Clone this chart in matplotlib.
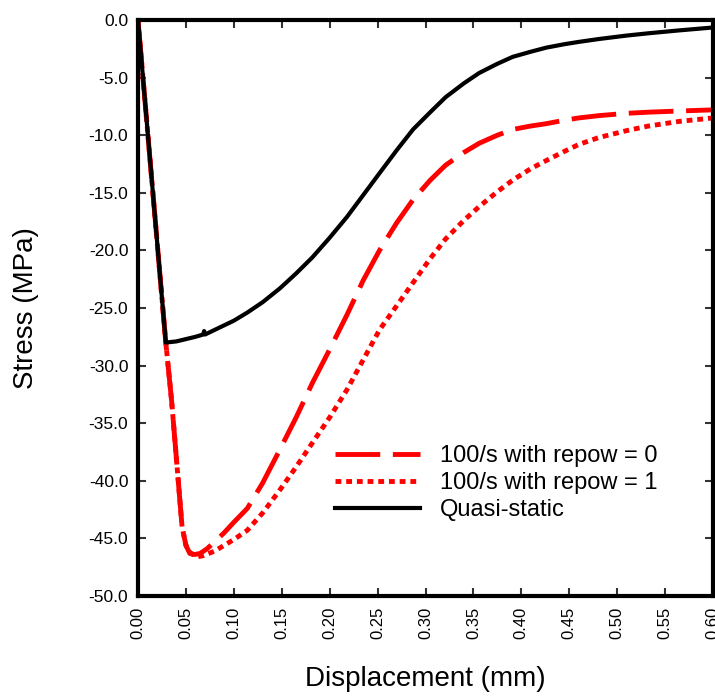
import matplotlib
matplotlib.use("Agg")
import matplotlib.pyplot as plt

plt.rcParams['font.family'] = ['Liberation Sans', 'DejaVu Sans']

# Quasi-static (black)
qs_x = [0.0, 0.029, 0.04, 0.05, 0.06, 0.068, 0.069, 0.070, 0.08, 0.09, 0.10, 0.114, 0.13,
        0.148, 0.165, 0.182, 0.20, 0.218, 0.235, 0.252, 0.27, 0.287, 0.305, 0.321, 0.34,
        0.356, 0.375, 0.391, 0.41, 0.426, 0.445, 0.46, 0.481, 0.51, 0.533, 0.565, 0.60]
qs_y = [0.0, -28.0, -27.9, -27.7, -27.5, -27.3, -27.0, -27.3, -26.9, -26.5, -26.1, -25.4, -24.5,
        -23.3, -22.0, -20.6, -18.9, -17.1, -15.2, -13.3, -11.3, -9.5, -8.0, -6.7, -5.5,
        -4.6, -3.8, -3.2, -2.75, -2.4, -2.1, -1.9, -1.65, -1.35, -1.15, -0.9, -0.65]

# 100/s with repow = 0 (red dashed)
r0_x = [0.0, 0.029, 0.035, 0.040, 0.046, 0.050, 0.054, 0.059, 0.065, 0.072, 0.08, 0.09, 0.10,
        0.114, 0.13, 0.148, 0.165, 0.182, 0.20, 0.218, 0.235, 0.252, 0.27, 0.287, 0.305,
        0.321, 0.34, 0.356, 0.375, 0.391, 0.41, 0.426, 0.445, 0.46, 0.481, 0.51, 0.533, 0.565, 0.60]
r0_y = [0.0, -28.0, -33.0, -38.0, -44.0, -45.6, -46.3, -46.4, -46.3, -45.9, -45.3, -44.5, -43.6,
        -42.4, -40.2, -37.3, -34.5, -31.5, -28.6, -25.6, -22.6, -20.0, -17.6, -15.6, -13.9,
        -12.6, -11.5, -10.7, -10.0, -9.5, -9.2, -9.0, -8.7, -8.5, -8.3, -8.1, -8.0, -7.9, -7.8]

# 100/s with repow = 1 (red dotted)
r1_x = [0.0, 0.029, 0.035, 0.040, 0.046, 0.050, 0.055, 0.062, 0.068, 0.08, 0.09, 0.10, 0.114,
        0.13, 0.148, 0.165, 0.182, 0.20, 0.218, 0.235, 0.252, 0.27, 0.287, 0.305, 0.321,
        0.34, 0.356, 0.375, 0.391, 0.41, 0.426, 0.445, 0.46, 0.481, 0.51, 0.533, 0.565, 0.60]
r1_y = [0.0, -28.0, -33.0, -38.0, -44.0, -45.6, -46.3, -46.6, -46.5, -46.1, -45.6, -45.1, -44.3,
        -42.8, -40.8, -38.8, -36.7, -34.5, -32.1, -29.5, -26.9, -24.8, -22.8, -20.7, -19.0,
        -17.4, -16.2, -14.9, -13.9, -12.9, -12.2, -11.4, -10.8, -10.2, -9.6, -9.2, -8.8, -8.5]

x_ticks = [0.00, 0.05, 0.10, 0.15, 0.20, 0.25, 0.30, 0.35, 0.40, 0.45, 0.50, 0.55, 0.60]
y_ticks = [0.0, -5.0, -10.0, -15.0, -20.0, -25.0, -30.0, -35.0, -40.0, -45.0, -50.0]

fig = plt.figure(figsize=(7.15, 6.96), dpi=100)
ax = fig.add_axes([138/715, 100/696, 575/715, 576/696])

ax.plot(r0_x, r0_y, color='#ff0000', lw=3.5, dashes=(9.2, 2.6), dash_capstyle='butt',
        label='100/s with repow = 0')
ax.plot(r1_x, r1_y, color='#ff0000', lw=3.5, dashes=(1.2, 1.0), dash_capstyle='butt',
        label='100/s with repow = 1')
ax.plot(qs_x, qs_y, color='black', lw=3.0, label='Quasi-static')

ax.set_xlim(0, 0.6)
ax.set_ylim(-50, 0)
ax.set_xticks(x_ticks)
ax.set_xticklabels([f"{v:.2f}" for v in x_ticks], rotation=90, fontsize=12)
ax.set_yticks(y_ticks)
ax.set_yticklabels([f"{v:.1f}" for v in y_ticks], fontsize=12.5)
ax.tick_params(direction='in', length=6, width=1.5, top=True, right=True, color='#333333')
ax.tick_params(axis='x', pad=8)
ax.tick_params(axis='y', pad=7)
for s in ax.spines.values():
    s.set_linewidth(3)
ax.set_xlabel('Displacement (mm)', fontsize=20, labelpad=19)
ax.set_ylabel('Stress (MPa)', fontsize=20, labelpad=36)

leg = ax.legend(loc='upper left', bbox_to_anchor=(0.3426, 0.262), frameon=False, fontsize=17,
                handlelength=3.6, handletextpad=0.85, labelspacing=0.22,
                borderpad=0, borderaxespad=0)

fig.savefig('out.png', dpi=100)
